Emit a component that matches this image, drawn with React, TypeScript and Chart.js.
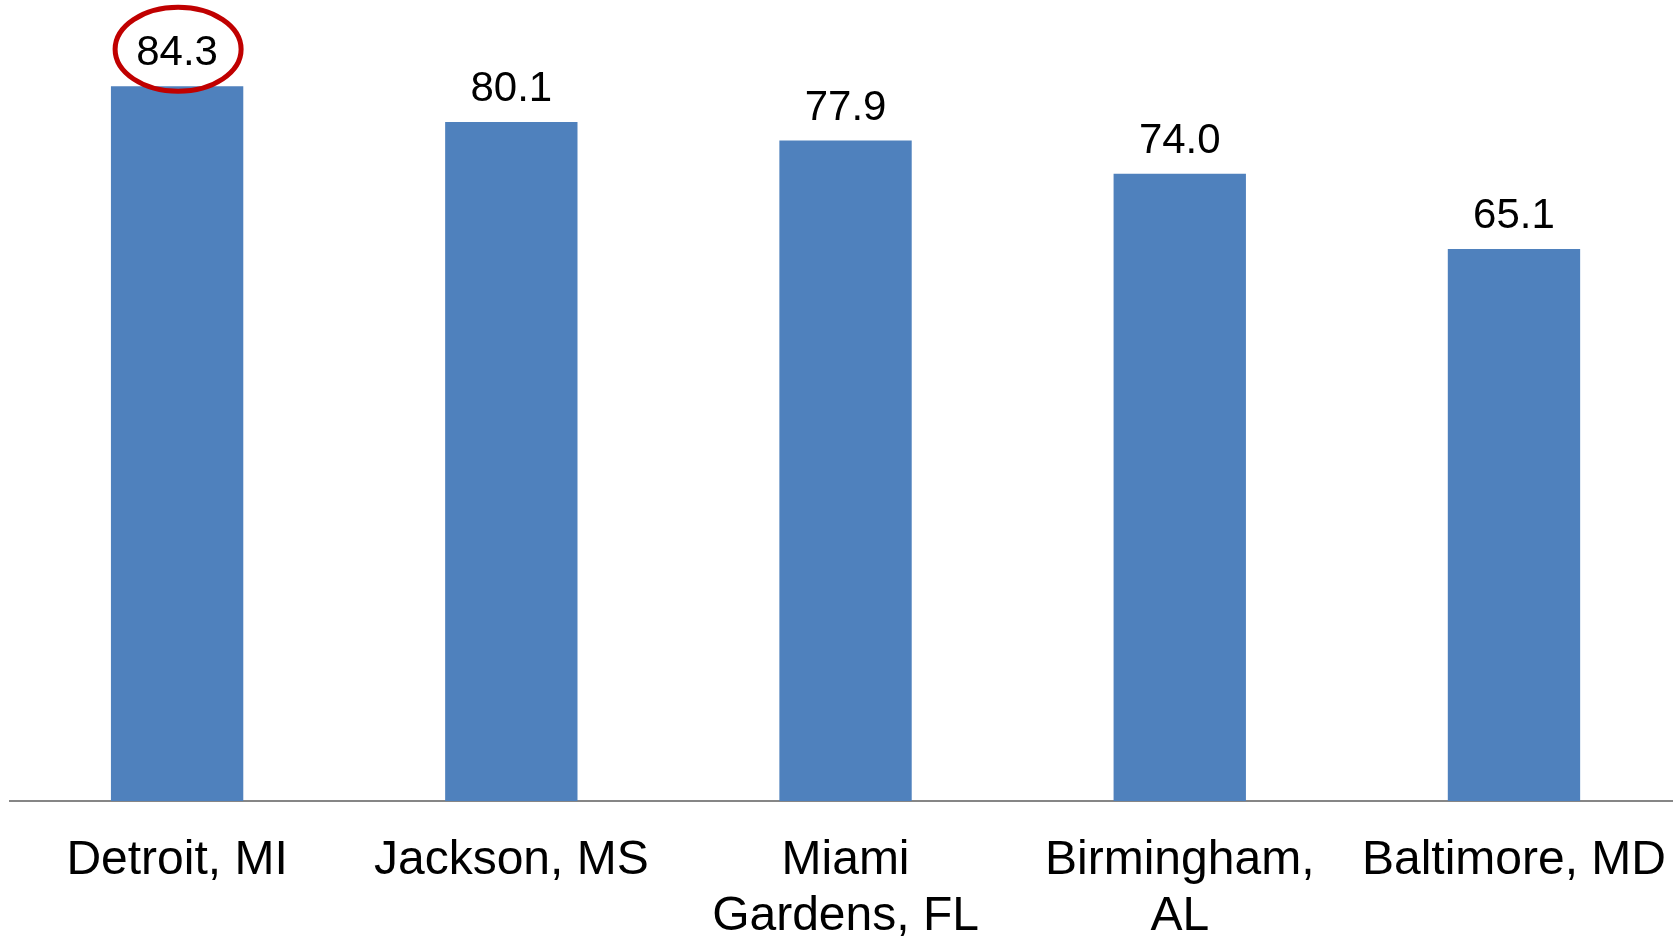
import React, { useEffect, useRef } from "react";
import { Chart, registerables } from "chart.js";

Chart.register(...registerables);

const categories: (string | string[])[] = [
  "Detroit, MI",
  "Jackson, MS",
  ["Miami", "Gardens, FL"],
  ["Birmingham,", "AL"],
  "Baltimore, MD",
];
const values: number[] = [84.3, 80.1, 77.9, 74.0, 65.1];
const highlightIndex = 0;

const FONT = "'Liberation Sans', Arial, Helvetica, sans-serif";

const valueLabelPlugin = {
  id: "valueLabels",
  afterDatasetsDraw(chart: any) {
    const ctx = chart.ctx;
    const meta = chart.getDatasetMeta(0);
    ctx.save();
    ctx.font = `42px ${FONT}`;
    ctx.fillStyle = "#000000";
    ctx.textAlign = "center";
    ctx.textBaseline = "alphabetic";
    meta.data.forEach((bar: any, i: number) => {
      const v = values[i];
      ctx.fillText(v.toFixed(1), bar.x, bar.y - 21);
      if (i === highlightIndex) {
        ctx.beginPath();
        ctx.ellipse(bar.x + 1, bar.y - 37, 63, 42, 0, 0, Math.PI * 2);
        ctx.strokeStyle = "#C00000";
        ctx.lineWidth = 5;
        ctx.stroke();
      }
    });
    ctx.restore();
  },
};

export default function App() {
  const ref = useRef<HTMLCanvasElement | null>(null);

  useEffect(() => {
    if (!ref.current) return;
    const chart = new Chart(ref.current, {
      type: "bar",
      data: {
        labels: categories as any,
        datasets: [
          {
            data: values,
            backgroundColor: "#4F81BD",
            borderWidth: 0,
            categoryPercentage: 1,
            barPercentage: 0.396,
          },
        ],
      },
      options: {
        animation: false,
        responsive: false,
        devicePixelRatio: 1,
        layout: { padding: { top: 38, left: 10, right: 0, bottom: 0 } },
        plugins: {
          legend: { display: false },
          tooltip: { enabled: false },
          title: { display: false },
        },
        scales: {
          x: {
            grid: { display: false, drawTicks: false },
            border: { display: true, color: "#868686", width: 2 },
            ticks: {
              color: "#000000",
              font: { family: FONT, size: 48, lineHeight: 1.16 },
              padding: 32,
              maxRotation: 0,
              autoSkip: false,
            },
            afterFit: (scale: any) => {
              scale.height = 149;
            },
          },
          y: {
            display: false,
            min: 0,
            max: 90,
          },
        },
      },
      plugins: [valueLabelPlugin],
    });
    return () => chart.destroy();
  }, []);

  return (
    <div
      style={{
        position: "fixed",
        left: 0,
        top: 0,
        width: 1673,
        height: 937,
        overflow: "hidden",
        background: "#ffffff",
      }}
    >
      <canvas ref={ref} width={1698} height={950} style={{ display: "block" }} />
    </div>
  );
}
